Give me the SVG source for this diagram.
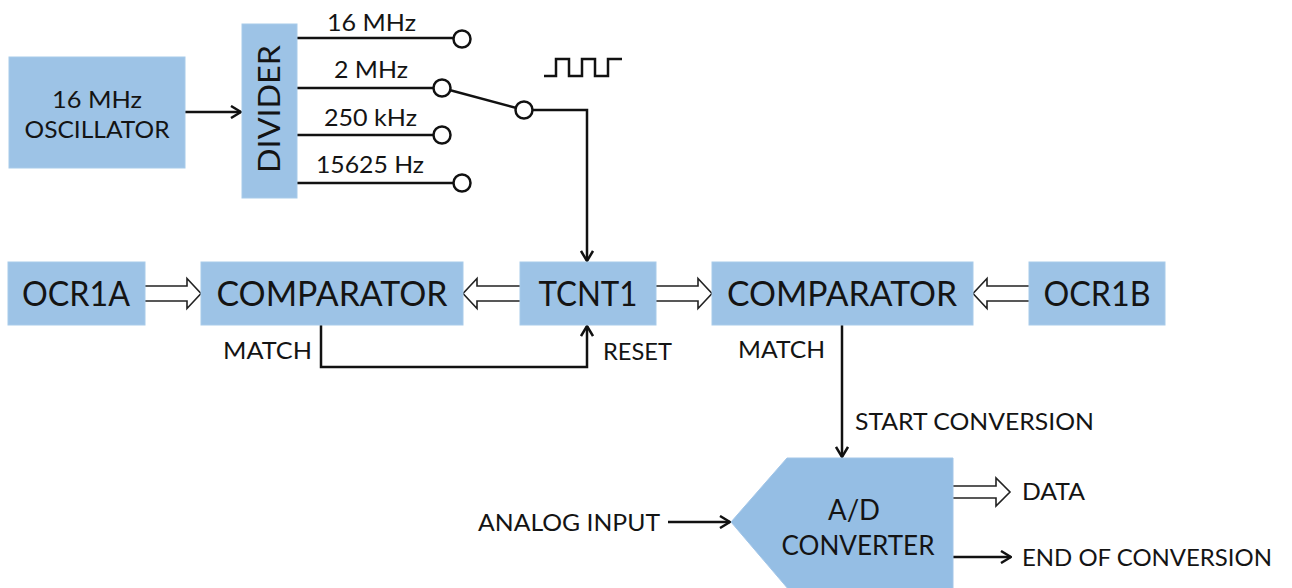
<svg xmlns="http://www.w3.org/2000/svg" width="1292" height="588" viewBox="0 0 1292 588">
<defs>
<style>
.box{fill:#9dc3e6;stroke:#a8cbea;stroke-width:1}
.adc{fill:#95bee4;stroke:#a3c6e8;stroke-width:1}
.t{font-family:Lato,"Liberation Sans",sans-serif;fill:#141414}
.big{font-size:34px}
.mid{font-size:24px}
.sm{font-size:23px}
.ln{fill:none;stroke:#111;stroke-width:2.5}
.arr{marker-end:url(#ah)}
.hol{fill:#fff;stroke:#222;stroke-width:1.6;stroke-linejoin:miter}
.term{fill:#fff;stroke:#111;stroke-width:2.5}
</style>
<marker id="ah" viewBox="0 0 12 14" refX="11" refY="7" markerWidth="12" markerHeight="14" markerUnits="userSpaceOnUse" orient="auto">
<path d="M1,1 L11,7 L1,13" fill="none" stroke="#111" stroke-width="2.5"/>
</marker>
</defs>
<rect width="1292" height="588" fill="#fff"/>

<g id="connectors">
<path class="ln arr" d="M185,112 H241"/>
<path class="ln" d="M297,38 H454"/>
<path class="ln" d="M297,88 H434"/>
<path class="ln" d="M297,135 H434"/>
<path class="ln" d="M297,183 H454"/>
<path class="ln" d="M442,88 L524,110"/>
<path class="ln arr" d="M524,110 H587 V261"/>
<polyline class="ln" points="544,76 556,76 556,59 569,59 569,76 582,76 582,59 595,59 595,76 608,76 608,59 622,59"/>
<path class="ln arr" d="M321,325 V367 H587 V326"/>
<path class="ln arr" d="M842,325 V457"/>
<path class="ln arr" d="M668,522 H730"/>
<path class="ln arr" d="M953,557 H1011"/>
<path class="hol" d="M145,286 H187 V278.5 L201,293.5 L187,308.5 V301 H145"/>
<path class="hol" d="M520,286 H477 V278.5 L463,293.5 L477,308.5 V301 H520"/>
<path class="hol" d="M656,286 H698 V278.5 L712,293.5 L698,308.5 V301 H656"/>
<path class="hol" d="M1029,286 H987 V278.5 L973,293.5 L987,308.5 V301 H1029"/>
<path class="hol" d="M953,486 H996 V478 L1010,492 L996,506 V498 H953"/>
<circle class="term" cx="462" cy="39" r="8.5"/>
<circle class="term" cx="442" cy="88" r="8.5"/>
<circle class="term" cx="442" cy="135" r="8.5"/>
<circle class="term" cx="462" cy="183" r="8.5"/>
<circle class="term" cx="524" cy="110" r="8.5"/>
</g>

<g id="oscillator">
<rect class="box" x="9" y="57" width="176" height="111"/>
<text class="t mid" x="97" y="108" text-anchor="middle" textLength="90" lengthAdjust="spacingAndGlyphs">16 MHz</text>
<text class="t mid" x="97" y="138" text-anchor="middle" textLength="145" lengthAdjust="spacingAndGlyphs">OSCILLATOR</text>
</g>

<g id="divider">
<rect class="box" x="242" y="24" width="55" height="174"/>
<text class="t" font-size="30" transform="translate(280,109) rotate(-90)" text-anchor="middle" textLength="128" lengthAdjust="spacingAndGlyphs">DIVIDER</text>
</g>

<g id="freq-labels">
<text class="t sm" x="371.5" y="31" text-anchor="middle" textLength="89" lengthAdjust="spacingAndGlyphs">16 MHz</text>
<text class="t sm" x="371" y="78" text-anchor="middle" textLength="74" lengthAdjust="spacingAndGlyphs">2 MHz</text>
<text class="t sm" x="370.5" y="126" text-anchor="middle" textLength="93" lengthAdjust="spacingAndGlyphs">250 kHz</text>
<text class="t sm" x="370" y="173" text-anchor="middle" textLength="108" lengthAdjust="spacingAndGlyphs">15625 Hz</text>
</g>

<g id="ocr1a">
<rect class="box" x="8" y="262" width="137" height="63"/>
<text class="t big" x="76" y="306" text-anchor="middle" textLength="108" lengthAdjust="spacingAndGlyphs">OCR1A</text>
</g>

<g id="comparator1">
<rect class="box" x="201" y="262" width="262" height="63"/>
<text class="t big" x="332" y="306" text-anchor="middle" textLength="231" lengthAdjust="spacingAndGlyphs">COMPARATOR</text>
</g>

<g id="tcnt1">
<rect class="box" x="520" y="262" width="136" height="63"/>
<text class="t big" x="588" y="306" text-anchor="middle" textLength="99" lengthAdjust="spacingAndGlyphs">TCNT1</text>
</g>

<g id="comparator2">
<rect class="box" x="712" y="262" width="261" height="63"/>
<text class="t big" x="842" y="306" text-anchor="middle" textLength="230" lengthAdjust="spacingAndGlyphs">COMPARATOR</text>
</g>

<g id="ocr1b">
<rect class="box" x="1029" y="262" width="136" height="63"/>
<text class="t big" x="1097" y="306" text-anchor="middle" textLength="107" lengthAdjust="spacingAndGlyphs">OCR1B</text>
</g>

<g id="signal-labels">
<text class="t sm" x="267.5" y="359" text-anchor="middle" textLength="89" lengthAdjust="spacingAndGlyphs">MATCH</text>
<text class="t sm" x="603" y="360" textLength="69" lengthAdjust="spacingAndGlyphs">RESET</text>
<text class="t sm" x="781.5" y="358" text-anchor="middle" textLength="87" lengthAdjust="spacingAndGlyphs">MATCH</text>
<text class="t sm" x="855" y="430" textLength="239" lengthAdjust="spacingAndGlyphs">START CONVERSION</text>
<text class="t sm" x="478" y="531" textLength="182" lengthAdjust="spacingAndGlyphs">ANALOG INPUT</text>
<text class="t sm" x="1022" y="500" textLength="63" lengthAdjust="spacingAndGlyphs">DATA</text>
<text class="t sm" x="1022" y="566" textLength="250" lengthAdjust="spacingAndGlyphs">END OF CONVERSION</text>
</g>

<g id="adc">
<polygon class="adc" points="787,458 953,458 953,590 789,590 731,522"/>
<text class="t" font-size="28" x="854" y="520" text-anchor="middle" textLength="52" lengthAdjust="spacingAndGlyphs">A/D</text>
<text class="t" font-size="27" x="858" y="555" text-anchor="middle" textLength="153" lengthAdjust="spacingAndGlyphs">CONVERTER</text>
</g>
</svg>
